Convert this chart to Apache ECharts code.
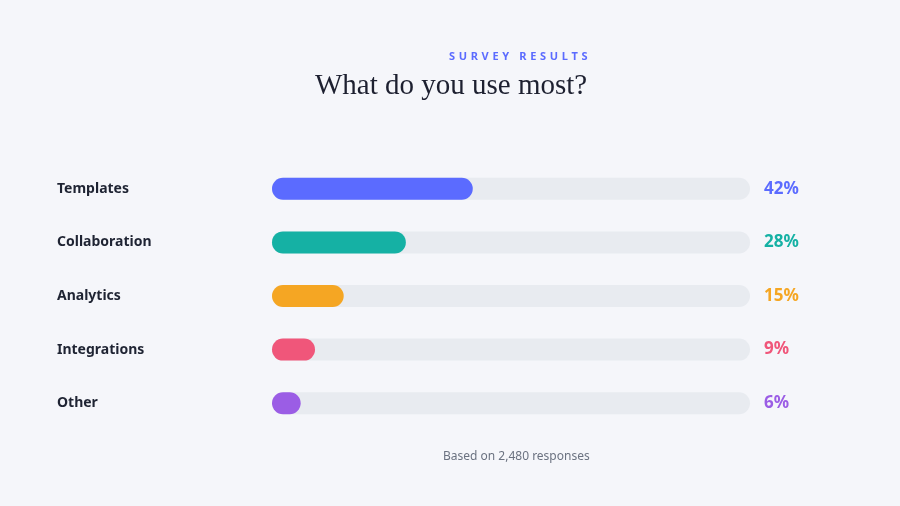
<!DOCTYPE html>
<html lang="en" style="height: 100%">
<head>
    <meta charset="UTF-8">
    <title>What do you use most?</title>
    <script src="https://cdn.jsdelivr.net/npm/echarts@6/dist/echarts.min.js"></script>
</head>
<body style="height: 100%; margin: 0; background: #f5f6fa">
<div id="main" style="width: 900px; height: 506px"></div>
<script>
    var categories = ['Templates', 'Collaboration', 'Analytics', 'Integrations', 'Other'];
    var shares = [42, 28, 15, 9, 6];
    var colors = ['#5b6bff', '#15b1a4', '#f5a623', '#f0567a', '#9b5de5'];
    var trackMax = 100;

    // spread the kicker letters out, since zrender has no letter-spacing
    function spaced(s) {
        return s.split(' ').map(function (w) {
            return w.split('').join('\u2004');
        }).join(' \u2004\u2004');
    }

    var myChart = echarts.init(document.getElementById('main'));

    var option = {
        backgroundColor: '#f5f6fa',
        animation: false,
        graphic: [
            {
                type: 'text',
                left: 449,
                top: 51,
                style: {
                    text: spaced('SURVEY RESULTS'),
                    font: 'bold 11px "Noto Sans"',
                    fill: '#5b6bff'
                }
            },
            {
                type: 'text',
                left: 315,
                top: 72,
                style: {
                    text: 'What do you use most?',
                    font: '29px "Liberation Serif"',
                    fill: '#1d2030'
                }
            },
            {
                type: 'text',
                left: 443,
                top: 451,
                style: {
                    text: 'Based on 2,480 responses',
                    font: '12px "Noto Sans"',
                    fill: '#6b7280'
                }
            }
        ],
        grid: {
            left: 272,
            right: 150,
            top: 162,
            bottom: 76
        },
        xAxis: {
            type: 'value',
            min: 0,
            max: trackMax,
            show: false
        },
        yAxis: {
            type: 'category',
            inverse: true,
            data: categories,
            axisLine: { show: false },
            axisTick: { show: false },
            axisLabel: {
                align: 'left',
                margin: 215,
                fontFamily: 'Noto Sans',
                fontWeight: 'bold',
                fontSize: 14,
                color: '#1f2433'
            }
        },
        series: [
            {
                // grey track behind each bar, carries the % label
                type: 'bar',
                barWidth: 22,
                barGap: '-100%',
                silent: true,
                itemStyle: { color: '#e8ebf0', borderRadius: 11 },
                label: {
                    show: true,
                    position: 'right',
                    distance: 14,
                    fontFamily: 'Noto Sans',
                    fontWeight: 'bold',
                    fontSize: 17
                },
                data: shares.map(function (v, i) {
                    return {
                        value: trackMax,
                        label: { color: colors[i], formatter: v + '%' }
                    };
                })
            },
            {
                type: 'bar',
                barWidth: 22,
                barGap: '-100%',
                itemStyle: { borderRadius: 11 },
                data: shares.map(function (v, i) {
                    return { value: v, itemStyle: { color: colors[i] } };
                })
            }
        ]
    };

    myChart.setOption(option);
</script>
</body>
</html>
